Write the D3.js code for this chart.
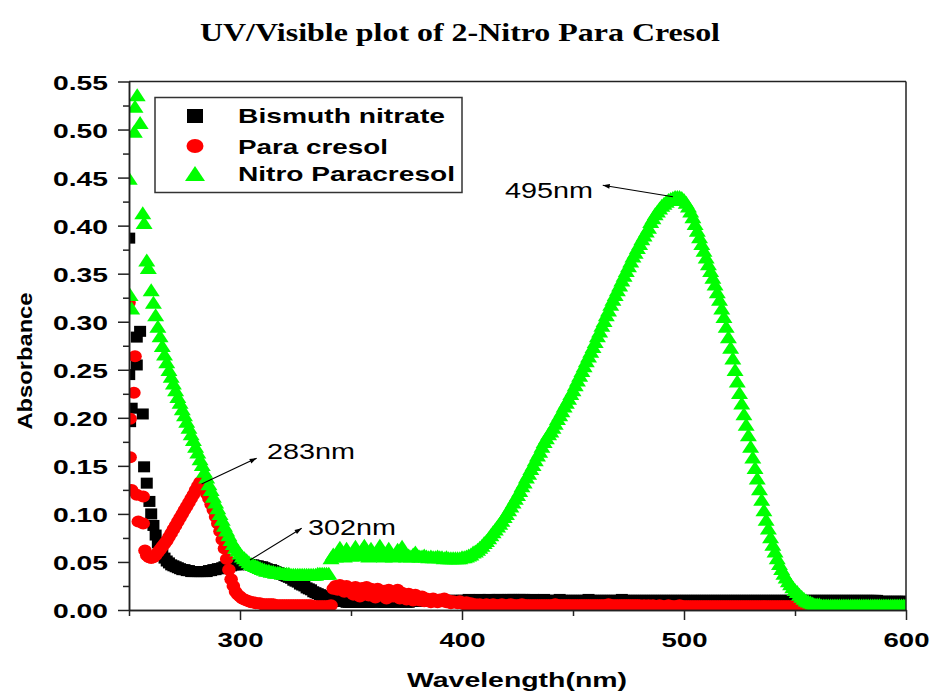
<!DOCTYPE html>
<html>
<head>
<meta charset="utf-8">
<script src="https://cdn.jsdelivr.net/npm/d3@7"></script>
<style>
  body { margin: 0; background: #fff; }
  svg { display: block; }
</style>
</head>
<body>
<svg id="chart" width="931" height="693"></svg>
<script>
// Shared 1 nm sampling grid for the main part of each scan (260-600 nm)
const wavelengths = d3.range(260, 601);

// Noisy readings below 260 nm, listed point by point
const bismuthHeadNm  = [250.1, 250.1, 250.5, 251.2, 253.5, 253.5, 255.0, 256.2, 256.8, 258.0, 259.2];
const bismuthHeadAbs = [0.387, 0.245, 0.196, 0.210, 0.284, 0.255, 0.290, 0.204, 0.149, 0.132, 0.113];

const cresolHeadNm  = [250.0, 250.5, 250.5, 251.2, 252.2, 252.7, 253.5, 254.2, 256.4, 256.4, 257.2, 258.0, 259.0];
const cresolHeadAbs = [0.320, 0.199, 0.159, 0.125, 0.226, 0.264, 0.120, 0.092, 0.118, 0.090, 0.062, 0.057, 0.055];

const nitroHeadNm  = [250.1, 250.5, 251.2, 252.4, 252.7, 253.7, 255.0, 256.2, 256.8, 258.0, 258.7];
const nitroHeadAbs = [0.449, 0.328, 0.314, 0.498, 0.524, 0.536, 0.507, 0.413, 0.403, 0.364, 0.356];

// Bismuth nitrate, 260-600 nm
const bismuthAbs = [
  .100,.088,.078,.070,.063,.058,.054,.051,.049,.047,
  .046,.045,.044,.043,.042,.042,.041,.041,.040,.040,
  .040,.040,.040,.040,.040,.040,.041,.041,.042,.042,
  .043,.043,.044,.045,.045,.046,.046,.047,.047,.047,
  .048,.048,.048,.048,.047,.047,.047,.046,.046,.045,
  .045,.044,.043,.042,.042,.041,.040,.039,.038,.037,
  .036,.035,.034,.033,.031,.030,.029,.027,.026,.025,
  .023,.022,.021,.019,.018,.017,.016,.015,.014,.013,
  .012,.012,.011,.010,.010,.009,.009,.009,.008,.008,
  .008,.008,.008,.008,.008,.009,.008,.008,.008,.009,
  .009,.008,.008,.009,.009,.008,.008,.008,.009,.009,
  .008,.008,.009,.009,.009,.008,.008,.009,.009,.009,
  .009,.009,.009,.010,.009,.009,.009,.010,.010,.009,
  .009,.010,.010,.010,.010,.009,.010,.010,.010,.010,
  .010,.010,.010,.011,.010,.010,.010,.010,.011,.010,
  .010,.010,.011,.010,.010,.010,.011,.011,.010,.010,
  .010,.011,.011,.011,.010,.010,.011,.011,.011,.010,
  .010,.010,.011,.010,.010,.010,.010,.011,.010,.010,
  .010,.010,.010,.010,.011,.010,.010,.010,.010,.010,
  .010,.010,.010,.010,.010,.010,.010,.011,.010,.010,
  .010,.010,.010,.010,.010,.010,.010,.010,.010,.010,
  .010,.010,.011,.010,.010,.010,.010,.010,.010,.010,
  .010,.010,.010,.010,.010,.010,.010,.010,.010,.010,
  .010,.010,.010,.010,.010,.010,.010,.010,.010,.010,
  .010,.010,.010,.010,.010,.010,.010,.010,.010,.010,
  .010,.010,.010,.010,.010,.010,.010,.010,.010,.010,
  .010,.010,.010,.010,.010,.010,.010,.010,.010,.010,
  .010,.010,.010,.010,.010,.010,.010,.010,.010,.010,
  .010,.010,.010,.010,.010,.010,.010,.010,.010,.010,
  .010,.010,.010,.010,.010,.010,.010,.010,.010,.010,
  .010,.010,.010,.010,.010,.010,.010,.010,.010,.010,
  .010,.010,.010,.010,.010,.010,.010,.010,.010,.010,
  .010,.010,.010,.010,.010,.010,.010,.010,.009,.009,
  .009,.009,.009,.009,.009,.009,.009,.009,.009,.009,
  .009
];

// Para cresol, 260-600 nm
const cresolAbs = [
  .054,.055,.057,.060,.063,.066,.069,.072,.076,.080,
  .084,.088,.092,.096,.100,.104,.108,.112,.116,.120,
  .125,.129,.133,.131,.127,.121,.116,.110,.104,.097,
  .090,.082,.073,.064,.053,.042,.032,.025,.019,.016,
  .014,.012,.011,.010,.009,.008,.008,.007,.007,.007,
  .006,.006,.006,.006,.006,.006,.005,.005,.005,.005,
  .005,.005,.005,.005,.005,.005,.005,.005,.005,.005,
  .005,.005,.005,.004,.004,.004,.004,.004,.004,.004,
  .004,.005,.022,.025,.021,.026,.024,.019,.025,.022,
  .023,.016,.024,.021,.014,.023,.020,.024,.015,.022,
  .021,.013,.022,.019,.017,.020,.012,.021,.018,.014,
  .019,.021,.012,.018,.016,.011,.017,.015,.010,.016,
  .013,.010,.014,.009,.012,.011,.008,.012,.010,.008,
  .011,.009,.012,.008,.010,.007,.009,.008,.007,.009,
  .007,.006,.008,.006,.007,.005,.006,.005,.006,.005,
  .005,.006,.005,.005,.006,.005,.005,.005,.006,.005,
  .005,.005,.006,.005,.005,.005,.005,.006,.005,.005,
  .005,.005,.005,.005,.005,.005,.005,.005,.005,.005,
  .005,.005,.006,.005,.005,.005,.005,.005,.005,.005,
  .005,.005,.005,.005,.005,.005,.005,.005,.005,.005,
  .005,.005,.005,.005,.005,.005,.006,.005,.005,.005,
  .005,.005,.005,.005,.005,.005,.005,.005,.005,.005,
  .005,.004,.005,.004,.005,.004,.005,.004,.004,.005,
  .004,.004,.004,.005,.004,.004,.004,.004,.005,.004,
  .004,.004,.004,.004,.004,.004,.004,.004,.004,.004,
  .004,.004,.004,.004,.004,.004,.004,.004,.004,.004,
  .004,.004,.004,.004,.004,.004,.004,.004,.004,.004,
  .004,.004,.004,.004,.004,.004,.004,.004,.004,.004,
  .004,.004,.004,.004,.004,.004,.004,.004,.004,.004,
  .004,.004,.004,.004,.004,.004,.004,.004,.004,.004,
  .004,.004,.004,.004,.004,.004,.004,.004,.004,.004,
  .004,.004,.004,.004,.004,.004,.004,.004,.004,.004,
  .004,.004,.004,.004,.004,.004,.004,.004,.004,.004,
  .004,.004,.004,.004,.004,.004,.004,.004,.004,.004,
  .004
];

// Nitro Paracresol, 260-600 nm
const nitroAbs = [
  .333,.320,.307,.295,.285,.275,.266,.258,.250,.243,
  .236,.229,.222,.216,.209,.203,.196,.190,.183,.177,
  .170,.164,.157,.151,.144,.138,.131,.125,.118,.112,
  .106,.100,.094,.088,.083,.078,.073,.069,.065,.062,
  .059,.056,.054,.052,.050,.048,.047,.046,.045,.044,
  .043,.042,.041,.041,.040,.040,.039,.039,.039,.038,
  .038,.038,.038,.037,.037,.037,.037,.037,.037,.037,
  .037,.037,.037,.037,.037,.038,.038,.038,.038,.038,
  .038,.054,.058,.056,.060,.065,.057,.056,.064,.058,
  .057,.060,.066,.058,.057,.063,.067,.058,.056,.064,
  .058,.057,.060,.067,.058,.056,.059,.064,.057,.056,
  .058,.063,.057,.066,.058,.056,.057,.056,.058,.060,
  .057,.056,.056,.057,.056,.055,.056,.055,.055,.056,
  .055,.055,.054,.055,.054,.054,.054,.054,.054,.054,
  .055,.055,.056,.057,.058,.060,.061,.063,.065,.067,
  .070,.072,.075,.078,.081,.084,.087,.090,.093,.097,
  .100,.104,.108,.112,.116,.120,.124,.129,.133,.138,
  .142,.147,.151,.156,.161,.165,.170,.175,.179,.183,
  .186,.190,.194,.199,.203,.207,.212,.216,.220,.225,
  .229,.234,.239,.244,.249,.254,.259,.264,.269,.274,
  .279,.285,.290,.296,.301,.307,.312,.318,.323,.328,
  .333,.338,.343,.348,.353,.358,.363,.368,.372,.377,
  .381,.386,.390,.394,.398,.404,.408,.412,.415,.418,
  .421,.423,.425,.427,.428,.429,.430,.430,.430,.429,
  .427,.424,.420,.415,.409,.402,.395,.388,.381,.374,
  .367,.360,.353,.346,.339,.331,.323,.314,.305,.295,
  .284,.273,.262,.250,.238,.226,.215,.204,.193,.182,
  .170,.159,.148,.137,.126,.115,.104,.094,.085,.076,
  .068,.061,.054,.048,.043,.038,.034,.030,.027,.024,
  .021,.019,.016,.014,.012,.010,.009,.008,.007,.006,
  .006,.006,.005,.005,.005,.005,.005,.005,.005,.005,
  .005,.005,.005,.005,.005,.005,.005,.005,.005,.005,
  .005,.005,.005,.005,.005,.005,.005,.005,.005,.005,
  .005,.005,.005,.005,.005,.005,.005,.005,.005,.005,
  .005
];

const seriesNames = ["Bismuth nitrate", "Para cresol", "Nitro Paracresol"];
const seriesColors = ["#000000", "#ff0000", "#00ff00"];

const xMajorTicks = [300, 400, 500, 600];
const xMinorTicks = [250, 350, 450, 550];
const yMajorTicks = [0, 0.05, 0.10, 0.15, 0.20, 0.25, 0.30, 0.35, 0.40, 0.45, 0.50, 0.55];
const yMinorTicks = [0.025, 0.075, 0.125, 0.175, 0.225, 0.275, 0.325, 0.375, 0.425, 0.475, 0.525];

// Peak annotations: arrow from the band to the label, label anchored at its left/baseline
const peakLabels = ["283nm", "302nm", "495nm"];
const arrowFromNm  = [282.7, 304.5, 495.0];
const arrowFromAbs = [0.131, 0.052, 0.430];
const arrowToNm    = [307.5, 327.8, 463.4];
const arrowToAbs   = [0.158, 0.085, 0.442];
const labelNm      = [312.2, 330.6, 419.4];
const labelAbs     = [0.157, 0.078, 0.4288];

const SANS = "Arial, 'Liberation Sans', sans-serif";
const SERIF = "'Times New Roman', 'Liberation Serif', serif";

const svg = d3.select("#chart");
const plot = { left: 129, right: 906, top: 81.5, bottom: 610 };

const x = d3.scaleLinear().domain([250, 600]).range([plot.left, plot.right]);
const y = d3.scaleLinear().domain([0, 0.55]).range([plot.bottom, plot.top]);

function combine(headNm, headAbs, body) {
  const pts = headNm.map((nm, i) => ({ nm, a: headAbs[i] }));
  wavelengths.forEach((nm, i) => pts.push({ nm, a: body[i] }));
  return pts;
}
const bismuth = combine(bismuthHeadNm, bismuthHeadAbs, bismuthAbs);
const cresol  = combine(cresolHeadNm, cresolHeadAbs, cresolAbs);
const nitro   = combine(nitroHeadNm, nitroHeadAbs, nitroAbs);

// Title
svg.append("text")
  .attr("x", 460).attr("y", 41)
  .attr("text-anchor", "middle")
  .attr("font-family", SERIF).attr("font-weight", "bold").attr("font-size", 25)
  .attr("textLength", 520).attr("lengthAdjust", "spacingAndGlyphs")
  .text("UV/Visible plot of 2-Nitro Para Cresol");

// Clip for data markers
svg.append("defs").append("clipPath").attr("id", "plotClip")
  .append("rect")
  .attr("x", plot.left).attr("y", plot.top)
  .attr("width", plot.right - plot.left).attr("height", plot.bottom - plot.top);

const defs = svg.select("defs");
defs.append("marker")
  .attr("id", "arrowHead")
  .attr("viewBox", "0 0 10 10")
  .attr("refX", 10).attr("refY", 5)
  .attr("markerWidth", 10).attr("markerHeight", 7)
  .attr("markerUnits", "userSpaceOnUse")
  .attr("orient", "auto")
  .append("path").attr("d", "M0,1.5 L10,5 L0,8.5 Z").attr("fill", "#000");

const dataLayer = svg.append("g").attr("clip-path", "url(#plotClip)");

// Bismuth nitrate: squares
dataLayer.append("g").selectAll("rect").data(bismuth).join("rect")
  .attr("x", d => x(d.nm) - 6).attr("y", d => y(d.a) - 5.5)
  .attr("width", 12).attr("height", 11)
  .attr("fill", seriesColors[0]);

// Para cresol: circles
dataLayer.append("g").selectAll("ellipse").data(cresol).join("ellipse")
  .attr("cx", d => x(d.nm)).attr("cy", d => y(d.a))
  .attr("rx", 6.8).attr("ry", 6)
  .attr("fill", seriesColors[1]);

// Nitro Paracresol: triangles
dataLayer.append("g").selectAll("path").data(nitro).join("path")
  .attr("transform", d => `translate(${x(d.nm)},${y(d.a)})`)
  .attr("d", "M0,-6.8 L8.5,6.2 L-8.5,6.2 Z")
  .attr("fill", seriesColors[2]);

// Frame (top and right)
svg.append("line")
  .attr("x1", plot.left).attr("x2", plot.right).attr("y1", plot.top).attr("y2", plot.top)
  .attr("stroke", "#222").attr("stroke-width", 1.5);
svg.append("line")
  .attr("x1", plot.right).attr("x2", plot.right).attr("y1", plot.top).attr("y2", plot.bottom)
  .attr("stroke", "#222").attr("stroke-width", 1.5);

// Axes
function styleAxis(g) {
  g.select(".domain").attr("stroke", "#222").attr("stroke-width", 1.5);
  g.selectAll(".tick line").attr("stroke", "#222").attr("stroke-width", 1.5);
}

const xMinor = svg.append("g").attr("transform", `translate(0,${plot.bottom})`)
  .call(d3.axisBottom(x).tickValues(xMinorTicks).tickSize(6).tickSizeOuter(0).tickFormat(""));
styleAxis(xMinor);
const xMajor = svg.append("g").attr("transform", `translate(0,${plot.bottom})`)
  .call(d3.axisBottom(x).tickValues(xMajorTicks).tickSize(10).tickSizeOuter(0).tickPadding(12).tickFormat(d3.format("d")));
styleAxis(xMajor);
xMajor.selectAll(".tick text")
  .attr("font-family", SANS).attr("font-weight", "bold").attr("font-size", 21).attr("fill", "#000")
  .attr("textLength", 46).attr("lengthAdjust", "spacingAndGlyphs")
  .attr("dy", null).attr("y", 37);

const yMinor = svg.append("g").attr("transform", `translate(${plot.left},0)`)
  .call(d3.axisLeft(y).tickValues(yMinorTicks).tickSize(6).tickSizeOuter(0).tickFormat(""));
styleAxis(yMinor);
const yMajor = svg.append("g").attr("transform", `translate(${plot.left},0)`)
  .call(d3.axisLeft(y).tickValues(yMajorTicks).tickSize(11).tickSizeOuter(0).tickFormat(d3.format(".2f")));
styleAxis(yMajor);
yMajor.selectAll(".tick text")
  .attr("font-family", SANS).attr("font-weight", "bold").attr("font-size", 21).attr("fill", "#000")
  .attr("textLength", 55).attr("lengthAdjust", "spacingAndGlyphs")
  .attr("x", -21).attr("dy", "0.36em");

// Axis titles
svg.append("text")
  .attr("x", 517).attr("y", 687)
  .attr("text-anchor", "middle")
  .attr("font-family", SANS).attr("font-weight", "bold").attr("font-size", 21)
  .attr("textLength", 220).attr("lengthAdjust", "spacingAndGlyphs")
  .text("Wavelength(nm)");

svg.append("text")
  .attr("transform", "translate(32,361) rotate(-90)")
  .attr("text-anchor", "middle")
  .attr("font-family", SANS).attr("font-weight", "bold").attr("font-size", 21)
  .attr("textLength", 137).attr("lengthAdjust", "spacingAndGlyphs")
  .text("Absorbance");

// Peak annotations
const notes = svg.append("g");
peakLabels.forEach((label, i) => {
  notes.append("line")
    .attr("x1", x(arrowFromNm[i])).attr("y1", y(arrowFromAbs[i]))
    .attr("x2", x(arrowToNm[i])).attr("y2", y(arrowToAbs[i]))
    .attr("stroke", "#000").attr("stroke-width", 1.1)
    .attr("marker-end", "url(#arrowHead)");
  notes.append("text")
    .attr("x", x(labelNm[i])).attr("y", y(labelAbs[i]))
    .attr("font-family", SANS).attr("font-size", 22)
    .attr("textLength", 88).attr("lengthAdjust", "spacingAndGlyphs")
    .text(label);
});

// Legend
const legend = svg.append("g");
legend.append("rect")
  .attr("x", 155).attr("y", 97.5).attr("width", 307).attr("height", 95)
  .attr("fill", "#fff").attr("stroke", "#333").attr("stroke-width", 1.5);

const legendRowsY = [116, 146, 174];
const legendTextY = [123, 154, 181];
const legendTextLen = [207, 150, 217];

legend.append("rect")
  .attr("x", 187).attr("y", legendRowsY[0] - 7).attr("width", 16).attr("height", 14)
  .attr("fill", seriesColors[0]);
legend.append("ellipse")
  .attr("cx", 195).attr("cy", legendRowsY[1]).attr("rx", 8.5).attr("ry", 7)
  .attr("fill", seriesColors[1]);
legend.append("path")
  .attr("transform", `translate(195,${legendRowsY[2]})`)
  .attr("d", "M0,-8 L10,7 L-10,7 Z")
  .attr("fill", seriesColors[2]);

seriesNames.forEach((name, i) => {
  legend.append("text")
    .attr("x", 238).attr("y", legendTextY[i])
    .attr("font-family", SANS).attr("font-weight", "bold").attr("font-size", 21)
    .attr("textLength", legendTextLen[i]).attr("lengthAdjust", "spacingAndGlyphs")
    .text(name);
});
</script>
</body>
</html>
